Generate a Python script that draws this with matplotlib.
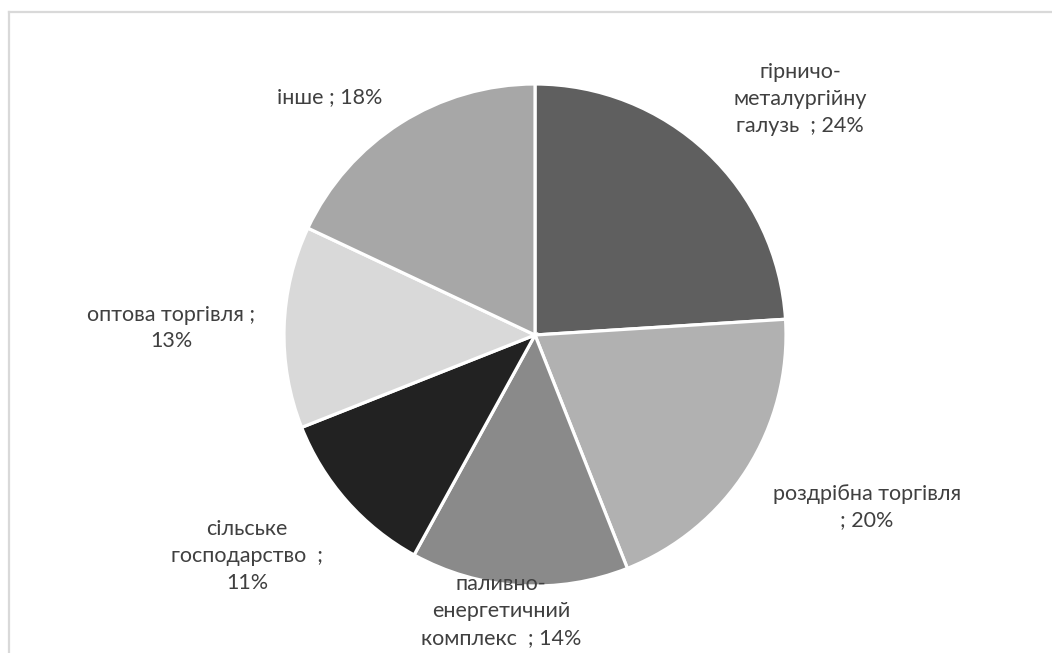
import matplotlib
matplotlib.use("Agg")
import matplotlib.pyplot as plt
from matplotlib.lines import Line2D

categories = ["гірничо-\nметалургійну\nгалузь  ; 24%",
              "роздрібна торгівля\n; 20%",
              "паливно-\nенергетичний\nкомплекс  ; 14%",
              "сільське\nгосподарство  ;\n11%",
              "оптова торгівля ;\n13%",
              "інше ; 18%"]
values = [24, 20, 14, 11, 13, 18]
colors = ["#5f5f5f", "#b1b1b1", "#8a8a8a", "#222222", "#d9d9d9", "#a7a7a7"]
# label centers in pixel coordinates (layout)
label_px = [(800, 99), (867, 507), (501, 611), (247, 556), (171, 328), (330, 97)]

W, H = 1052, 653
fig = plt.figure(figsize=(W / 100, H / 100), dpi=100)
plt.rcParams['font.family'] = ['Lato', 'DejaVu Sans']

cx, cy, r = 535, 335, 251
ax = fig.add_axes([(cx - r) / W, (H - cy - r) / H, 2 * r / W, 2 * r / H])
ax.pie(values, colors=colors, startangle=90, counterclock=False, radius=1,
       wedgeprops=dict(edgecolor="white", linewidth=2.3))
ax.set_xlim(-1, 1)
ax.set_ylim(-1, 1)
ax.set_aspect("equal")
ax.axis("off")

for lab, (px, py) in zip(categories, label_px):
    fig.text(px / W, 1 - py / H, lab, ha="center", va="center", fontsize=15.5,
             color="#404040", linespacing=1.42)

fig.add_artist(Line2D([9 / W, 1], [1 - 11.5 / H, 1 - 11.5 / H], color="#d9d9d9", lw=1.6,
                      transform=fig.transFigure))
fig.add_artist(Line2D([9.5 / W, 9.5 / W], [0, 1 - 11.5 / H], color="#d9d9d9", lw=1.6,
                      transform=fig.transFigure))

fig.savefig("out.png", dpi=100, facecolor="white")
